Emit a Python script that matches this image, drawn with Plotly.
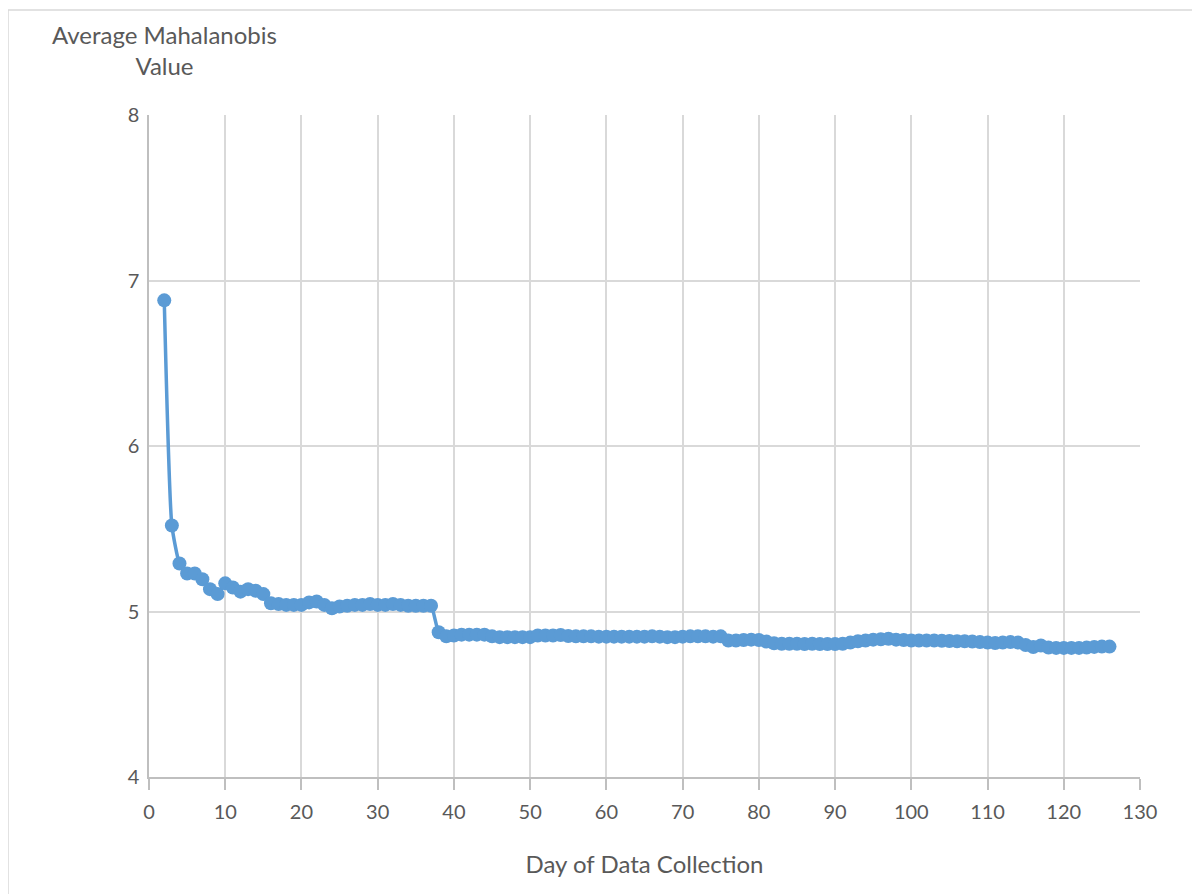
import plotly.graph_objects as go

days = list(range(2, 127))
avg_mahalanobis = [
    6.88, 5.52, 5.29, 5.23, 5.23, 5.195, 5.135, 5.105, 5.17, 5.145,
    5.12, 5.135, 5.125, 5.105, 5.05, 5.045, 5.04, 5.04, 5.04, 5.055,
    5.06, 5.04, 5.02, 5.03, 5.035, 5.04, 5.04, 5.045, 5.04, 5.04,
    5.045, 5.04, 5.035, 5.035, 5.035, 5.035, 4.875, 4.85, 4.855, 4.86,
    4.86, 4.86, 4.86, 4.85, 4.845, 4.845, 4.845, 4.845, 4.845, 4.855,
    4.855, 4.855, 4.858, 4.852, 4.85, 4.85, 4.85, 4.848, 4.848, 4.848,
    4.848, 4.848, 4.848, 4.848, 4.85, 4.848, 4.845, 4.845, 4.848, 4.85,
    4.85, 4.85, 4.848, 4.85, 4.825, 4.825, 4.828, 4.83, 4.828, 4.818,
    4.808, 4.805, 4.805, 4.805, 4.803, 4.805, 4.803, 4.803, 4.803, 4.805,
    4.812, 4.82, 4.825, 4.83, 4.832, 4.835, 4.83, 4.828, 4.825, 4.825,
    4.825, 4.825, 4.823, 4.822, 4.82, 4.82, 4.818, 4.815, 4.813, 4.81,
    4.812, 4.815, 4.812, 4.798, 4.785, 4.795, 4.782, 4.78, 4.78, 4.78,
    4.78, 4.782, 4.786, 4.788, 4.788,
]

x_ticks = list(range(0, 131, 10))
y_ticks = [4, 5, 6, 7, 8]

color = "#5B9BD5"
font_family = "Lato, Carlito, 'Open Sans', sans-serif"

# page body has an 8px offset; plot area in reference: x 149..1140, y 115..777
L, T, PW, PH = 141, 107, 991, 662

fig = go.Figure()
fig.add_trace(go.Scatter(
    x=days, y=avg_mahalanobis,
    mode="lines+markers",
    line=dict(color=color, width=3.5, shape="spline", smoothing=0.5),
    marker=dict(color=color, size=14),
    showlegend=False,
))

fig.update_layout(
    width=1200, height=894,
    margin=dict(l=L, r=1200 - L - PW, t=T, b=894 - T - PH),
    paper_bgcolor="white", plot_bgcolor="white",
    font=dict(family=font_family, color="#595959", size=20),
    xaxis=dict(
        range=[0, 130], tickvals=x_ticks, showgrid=True,
        gridcolor="#d9d9d9", gridwidth=1.5,
        showline=True, linecolor="#bfbfbf", linewidth=1.5,
        ticks="outside", ticklen=11, tickcolor="#bfbfbf", tickwidth=1.5,
        ticklabelstandoff=5,
        zeroline=False, tickfont=dict(size=20, color="#595959"),
        title=dict(text="Day of Data Collection", font=dict(size=24, color="#595959"), standoff=34),
    ),
    yaxis=dict(
        range=[4, 8], tickvals=y_ticks, showgrid=True,
        gridcolor="#d9d9d9", gridwidth=1.5,
        showline=True, linecolor="#bfbfbf", linewidth=1.5,
        ticks="", zeroline=False, ticklabelstandoff=4,
        tickfont=dict(size=20, color="#595959"),
    ),
    annotations=[dict(
        text="Average Mahalanobis<br>Value",
        xref="paper", yref="paper",
        x=(164 - 149) / PW, y=1 + (115 - 50) / PH,
        xanchor="center", yanchor="middle", showarrow=False,
        align="center",
        font=dict(size=24, color="#595959", family=font_family),
    )],
    shapes=[dict(
        type="rect", xref="paper", yref="paper",
        x0=(8 - 149) / PW, x1=(1215 - 149) / PW,
        y0=1 - (905 - 115) / PH, y1=1 + (115 - 10) / PH,
        line=dict(color="#d9d9d9", width=1.5), fillcolor="rgba(0,0,0,0)",
        layer="below",
    )],
)

fig.write_html("out.html")
